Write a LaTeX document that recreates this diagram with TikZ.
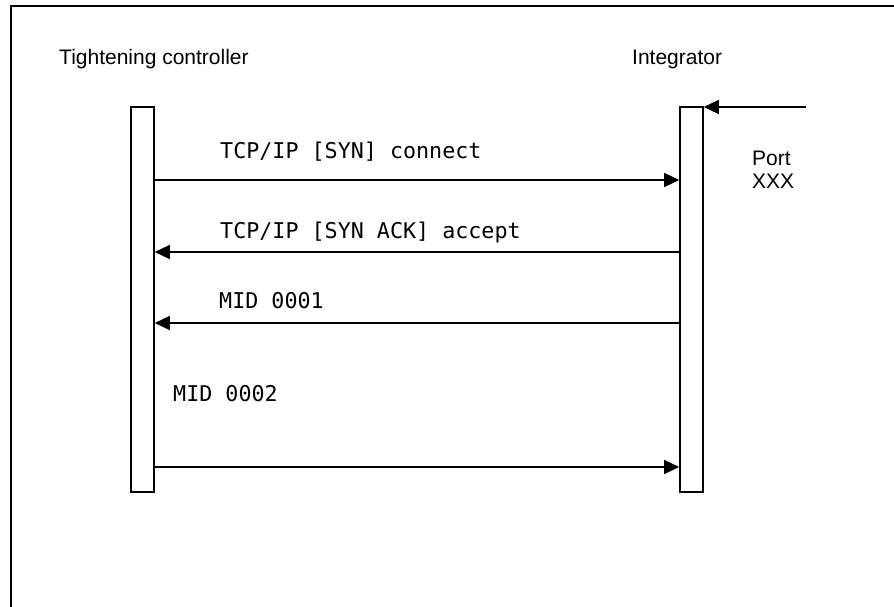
\documentclass[tikz,border=0pt]{standalone}
\usepackage{fontspec}
\setmainfont{Liberation Sans}
\newfontfamily\codefont{DejaVu Sans Mono}
\usetikzlibrary{arrows.meta}
\tikzset{
  frameline/.style={line width=2pt},
  lifebar/.style={draw, line width=1.6pt, fill=white, minimum width=23pt, minimum height=385pt, inner sep=0pt},
  msg/.style={line width=1.4pt, -{Triangle[length=15pt,width=14pt]}},
  actor/.style={anchor=base west, inner sep=0pt, font=\fontsize{21}{23}\selectfont},
  msglabel/.style={anchor=base west, inner sep=0pt, font=\codefont\fontsize{21.7}{24}\selectfont},
}
\begin{document}
\begin{tikzpicture}[x=1pt,y=-1pt]
\useasboundingbox (0,0) rectangle (894,607);
\draw[frameline] (11,607) -- (11,6) -- (894,6);
\node[actor] (tclabel) at (59,65) {Tightening controller};
\node[actor] (intlabel) at (632,65) {Integrator};
\node[lifebar] (tcbar) at (142.5,299.5) {};
\node[lifebar] (intbar) at (691.5,299.5) {};
\coordinate (portsrc) at (806,107);
\draw[msg] (portsrc) -- (portsrc -| intbar.east);
\node[anchor=north west, inner sep=0pt, align=left, font=\fontsize{21}{23}\selectfont] (port) at (752,150.5) {Port\\XXX};
\draw[msg] (tcbar.east |- 0,180) -- (intbar.west |- 0,180);
\draw[msg] (intbar.west |- 0,252) -- (tcbar.east |- 0,252);
\draw[msg] (intbar.west |- 0,323) -- (tcbar.east |- 0,323);
\draw[msg] (tcbar.east |- 0,467) -- (intbar.west |- 0,467);
\node[msglabel] (m1) at (220,158) {TCP/IP [SYN] connect};
\node[msglabel] (m2) at (220,238) {TCP/IP [SYN ACK] accept};
\node[msglabel] (m3) at (219,308) {MID 0001};
\node[msglabel] (m4) at (173,401) {MID 0002};
\end{tikzpicture}
\end{document}
